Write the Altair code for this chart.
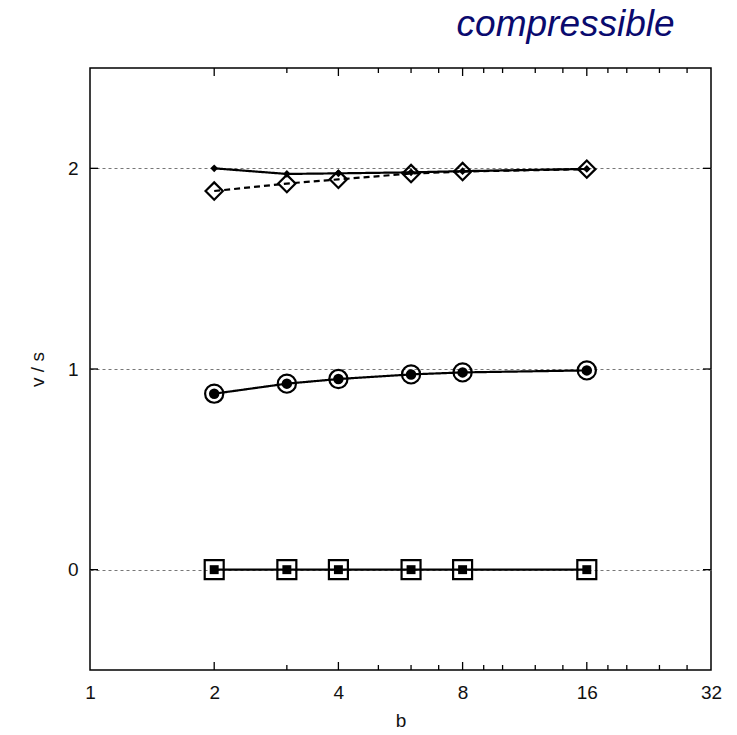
import altair as alt
import pandas as pd

# ---- data ----
b = [2, 3, 4, 6, 8, 16]
diamond_small = [2.000, 1.972, 1.975, 1.980, 1.986, 1.997]
diamond_open = [1.887, 1.924, 1.945, 1.974, 1.984, 1.996]
circle = [0.877, 0.927, 0.950, 0.973, 0.983, 0.993]
square = [0.0, 0.0, 0.0, 0.0, 0.0, 0.0]

x_labels = [1, 2, 4, 8, 16, 32]
x_major = [2, 4, 8, 16]
x_minor = [3, 5, 6, 7, 9, 10, 12, 14, 18, 20, 24, 28]
y_labels = [0, 1, 2]

series_names = ["diamond_small", "diamond_open", "circle", "square"]
series_vals = [diamond_small, diamond_open, circle, square]

rows = []
for name, vals in zip(series_names, series_vals):
    for xv, yv in zip(b, vals):
        rows.append({"b": xv, "v": yv, "series": name})
df = pd.DataFrame(rows)

W, H = 621, 602
FONT = "Liberation Sans"

xs = alt.Scale(type="log", base=2, domain=[1, 32], nice=False)
ys = alt.Scale(domain=[-0.5, 2.5], nice=False, zero=False)

x_axis = alt.Axis(values=x_labels, format="d", ticks=False, domain=False,
                  grid=False, labelPadding=13, labelFontSize=19,
                  labelFont=FONT, labelColor="#111111", titleFont=FONT,
                  titleFontSize=19, titleFontWeight="normal",
                  titleColor="#111111", titlePadding=9, labelFlush=False)
y_axis = alt.Axis(values=y_labels, format="d", ticks=False, domain=False,
                  grid=True, gridDash=[3, 3], gridColor="#777777",
                  gridWidth=1, labelPadding=12, labelFontSize=19,
                  labelFont=FONT, labelColor="#111111", titleFont=FONT,
                  titleFontSize=19, titleFontWeight="normal",
                  titleColor="#111111", titlePadding=20)

X = alt.X("b:Q", scale=xs, title="b", axis=x_axis)
Y = alt.Y("v:Q", scale=ys, title="v / s", axis=y_axis)

# tick marks (inward)
maj_df = pd.DataFrame({"b": x_major})
min_df = pd.DataFrame({"b": x_minor})
yt_df = pd.DataFrame({"v": y_labels})
tick_style = dict(color="black", strokeWidth=1.3)
ticks = [
    alt.Chart(maj_df).mark_rule(**tick_style).encode(x=X, y=alt.value(H), y2=alt.value(H - 8)),
    alt.Chart(maj_df).mark_rule(**tick_style).encode(x=X, y=alt.value(0), y2=alt.value(8)),
    alt.Chart(min_df).mark_rule(**tick_style).encode(x=X, y=alt.value(H), y2=alt.value(H - 5)),
    alt.Chart(min_df).mark_rule(**tick_style).encode(x=X, y=alt.value(0), y2=alt.value(5)),
    alt.Chart(yt_df).mark_rule(**tick_style).encode(y=Y, x=alt.value(0), x2=alt.value(8)),
    alt.Chart(yt_df).mark_rule(**tick_style).encode(y=Y, x=alt.value(W), x2=alt.value(W - 8)),
]

lines = alt.Chart(df).mark_line(color="black", strokeWidth=2.2).encode(
    x=X, y=Y, detail="series:N",
    strokeDash=alt.StrokeDash("series:N", legend=None,
                              scale=alt.Scale(domain=series_names,
                                              range=[[1, 0], [6, 4], [1, 0], [1, 0]])),
)


def pts(name, shape, size, filled, sw=2.2):
    return alt.Chart(df).transform_filter(alt.datum.series == name).mark_point(
        shape=shape, size=size, filled=filled, color="black",
        strokeWidth=sw, opacity=1, fillOpacity=1,
    ).encode(x=X, y=Y)


markers = [
    pts("diamond_open", "diamond", 300, False),
    pts("diamond_small", "diamond", 60, True),
    pts("circle", "circle", 330, False),
    pts("circle", "circle", 110, True),
    pts("square", "square", 360, False),
    pts("square", "square", 80, True),
]

chart = alt.layer(lines, *ticks, *markers).properties(
    width=W, height=H,
    title=alt.TitleParams("compressible", font=FONT, fontSize=37, fontStyle="italic",
                          fontWeight="normal", color="#0a0a6e", anchor="end",
                          dx=-47, offset=23),
    autosize=alt.AutoSizeParams(type="none"),
    padding={"left": 90, "top": 68, "right": 26, "bottom": 65},
).configure(
    background="white",
    view=alt.ViewConfig(stroke="black", strokeWidth=1.5),
)

chart.save("out.html", embed_options={"renderer": "svg", "actions": False})
